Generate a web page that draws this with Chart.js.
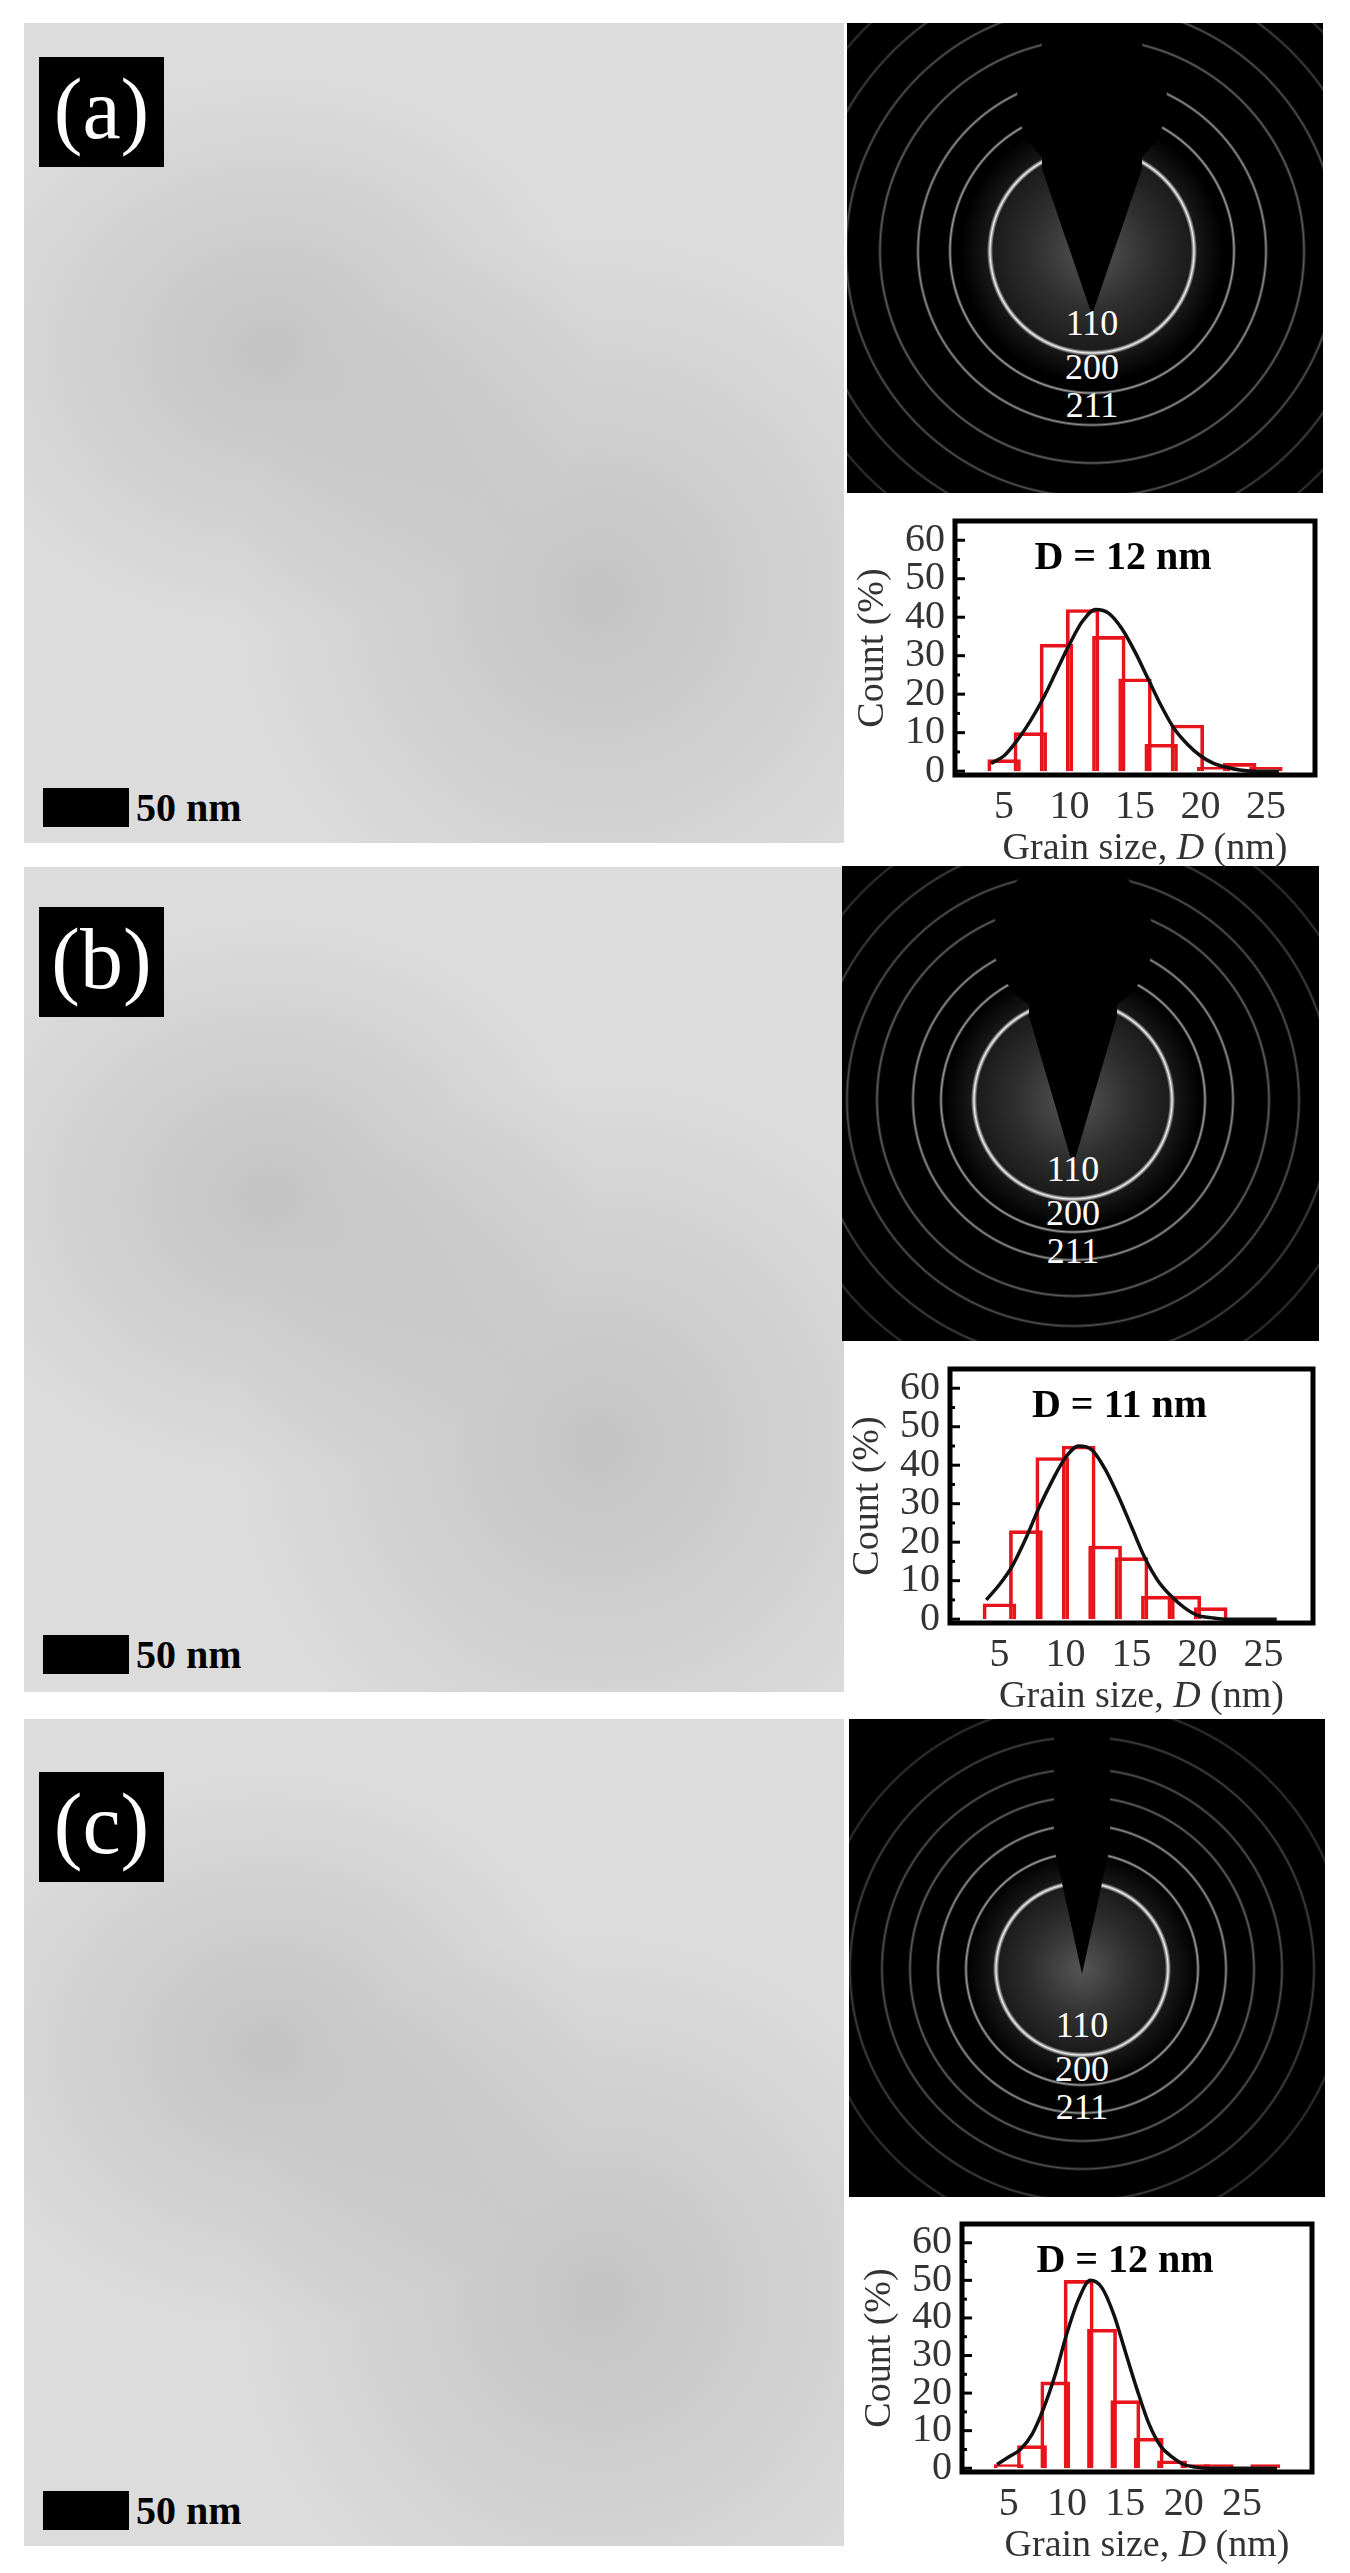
<!DOCTYPE html>
<html>
<head>
<meta charset="utf-8">
<script src="https://cdn.jsdelivr.net/npm/chart.js@4.4.1/dist/chart.umd.min.js"></script>
<style>
  body { margin: 0; background: #fff; width: 1350px; height: 2573px; position: relative; overflow: hidden; font-family: "Liberation Serif", "Times New Roman", "DejaVu Serif", serif; }
  .tem { position: absolute; left: 24px; width: 820px; background:
      radial-gradient(ellipse at 30% 40%, rgba(150,150,150,0.35), rgba(0,0,0,0) 40%),
      radial-gradient(ellipse at 70% 70%, rgba(140,140,140,0.3), rgba(0,0,0,0) 45%),
      #dcdcdc; }
  .lbl { position: absolute; left: 39px; width: 125px; height: 110px; background: #000; color: #fff;
      font-size: 86px; line-height: 104px; text-align: center; }
  .bar { position: absolute; left: 43px; width: 86px; height: 39px; background: #000; }
  .barTxt { position: absolute; left: 136px; font-size: 40px; font-weight: bold; line-height: 39px; }
  .sad { position: absolute; background: #000; overflow: hidden; }
  .stop { position: absolute; background: #000; }
  .hkl { position: absolute; color: #fff; font-size: 36px; width: 80px; text-align: center; line-height: 36px; }
  canvas { position: absolute; }
</style>
</head>
<body>
<div class="tem" style="top:23px;height:820px"></div>
<div class="tem" style="top:867px;height:825px"></div>
<div class="tem" style="top:1719px;height:827px"></div>
<div class="lbl" style="top:57px">(a)</div>
<div class="lbl" style="top:907px">(b)</div>
<div class="lbl" style="top:1772px">(c)</div>
<div class="bar" style="top:788px"></div><div class="barTxt" style="top:788px">50 nm</div>
<div class="bar" style="top:1635px"></div><div class="barTxt" style="top:1635px">50 nm</div>
<div class="bar" style="top:2491px"></div><div class="barTxt" style="top:2491px">50 nm</div>

<div id="sadA" class="sad" style="left:847px;top:23px;width:476px;height:470px"></div>
<div id="sadB" class="sad" style="left:842px;top:866px;width:477px;height:475px"></div>
<div id="sadC" class="sad" style="left:849px;top:1719px;width:476px;height:478px"></div>

<canvas id="hA"></canvas>
<canvas id="hB"></canvas>
<canvas id="hC"></canvas>

<script>
// histogram bins (centre of each 2 nm bin) and counts (%)
const binsA = [5, 7, 9, 11, 13, 15, 17, 19, 21, 23, 25];
const countsA = [3, 10, 33, 42, 35, 24, 7, 12, 1, 2, 1];
const binsB = [5, 7, 9, 11, 13, 15, 17, 19, 21];
const countsB = [4, 23, 42, 45, 19, 16, 6, 6, 3];
const binsC = [5, 7, 9, 11, 13, 15, 17, 19, 21, 23, 25, 27];
const countsC = [1, 6, 23, 50, 37, 18, 8, 2, 1, 1, null, 1];

// fitted curve
const fitXA = [4, 5, 6, 7, 8, 9, 10, 11, 12, 13, 14, 15, 16, 17, 18, 19, 20, 21, 22, 23, 24, 26];
const fitYA = [2, 4, 8, 13, 19, 26, 33, 39, 42, 41, 37, 31, 24, 17, 11, 7, 4, 2, 1, 0.3, 0, 0];
const fitXB = [4, 5, 6, 7, 8, 9, 10, 11, 12, 13, 14, 15, 16, 17, 18, 19, 20, 21, 22, 26];
const fitYB = [5, 9, 14, 21, 29, 36, 42, 45, 44, 39, 32, 24, 16, 10, 6, 3, 1, 0.4, 0, 0];
const fitXC = [4, 5, 6, 7, 8, 9, 10, 11, 12, 13, 14, 15, 16, 17, 18, 19, 20, 21, 22, 28];
const fitYC = [1, 3, 5, 9, 16, 25, 36, 45, 50, 48, 41, 31, 21, 12, 6, 3, 1, 0.3, 0, 0];

const yTicks = [0, 10, 20, 30, 40, 50, 60];
const xTicks = [5, 10, 15, 20, 25];
const hklLabels = ['110', '200', '211'];

// diffraction patterns: rings as css gradients
function drawSAD(id, cx, cy, radii, stopR, stopCy, tipY, stemW) {
  const el = document.getElementById(id);
  const shades = ['#f0f0f0', '#a0a0a0', '#909090', '#606060', '#505050', '#404040', '#333'];
  let stops = [];
  radii.forEach((r, i) => {
    const c = shades[i] || '#2a2a2a';
    const hw = i === 0 ? 3 : 2;
    stops.push(`rgba(0,0,0,0) ${r - hw}px, ${c} ${r}px, rgba(0,0,0,0) ${r + hw}px`);
  });
  el.style.background = `radial-gradient(circle at ${cx}px ${cy}px, ${stops.join(', ')}),
    radial-gradient(circle at ${cx}px ${cy}px, #555 0px, #2e2e2e ${radii[0] * 0.6}px, #1a1a1a ${radii[0]}px, #000 ${radii[0] + 30}px)`;
  if (stopR) {
    const c = document.createElement('div');
    c.className = 'stop';
    c.style.cssText = `left:${cx - stopR}px;top:${stopCy - stopR}px;width:${stopR * 2}px;height:${stopR * 2}px;border-radius:50%`;
    el.appendChild(c);
  }
  const s = document.createElement('div');
  s.className = 'stop';
  s.style.cssText = `left:${cx - stemW}px;top:0px;width:${stemW * 2}px;height:${tipY}px;` +
    `clip-path:polygon(0 0,100% 0,100% 50%,50% 100%,0 50%)`;
  el.appendChild(s);
  const ly = [cy + radii[0] - 30, cy + radii[0] + 14, cy + radii[0] + 52];
  hklLabels.forEach((t, i) => {
    const d = document.createElement('div');
    d.className = 'hkl';
    d.style.cssText = `left:${cx - 40}px;top:${ly[i] - 18}px`;
    d.textContent = t;
    el.appendChild(d);
  });
}
drawSAD('sadA', 245, 228, [102, 142, 174, 212, 246, 282, 318], 75, 78, 292, 50);
drawSAD('sadB', 231, 234, [99, 132, 160, 196, 226, 260, 296], 80, 72, 300, 44);
drawSAD('sadC', 233, 250, [86, 116, 144, 172, 200, 232, 266], 0, 0, 255, 28);

const FONT = '"Liberation Serif", "Times New Roman", "DejaVu Serif", serif';

const frame = {
  id: 'frame',
  afterDraw(chart, args, opts) {
    const { ctx, chartArea: a } = chart;
    ctx.save();
    ctx.lineWidth = 5;
    ctx.strokeStyle = '#000';
    ctx.strokeRect(a.left, a.top, a.right - a.left, a.bottom - a.top);
    const y = chart.scales.y;
    ctx.lineWidth = 3;
    for (let v = 0; v <= 60; v += 5) {
      const py = y.getPixelForValue(v);
      const len = v % 10 === 0 ? 10 : 5;
      ctx.beginPath(); ctx.moveTo(a.left, py); ctx.lineTo(a.left + len, py); ctx.stroke();
    }
    ctx.fillStyle = '#000';
    ctx.font = `bold 40px ${FONT}`;
    ctx.textAlign = 'center';
    ctx.textBaseline = 'top';
    ctx.fillText(opts.text, opts.textX, a.top + 18);
    ctx.textAlign = 'left';
    ctx.textBaseline = 'alphabetic';
    const parts = [['Grain size, ', `38px ${FONT}`], ['D', `italic 38px ${FONT}`], [' (nm)', `38px ${FONT}`]];
    let w = 0;
    parts.forEach(p => { ctx.font = p[1]; w += ctx.measureText(p[0]).width; });
    let x = (a.left + a.right) / 2 - w / 2 + 10;
    const ty = a.bottom + 84;
    ctx.fillStyle = '#333';
    parts.forEach(p => { ctx.font = p[1]; ctx.fillText(p[0], x, ty); x += ctx.measureText(p[0]).width; });
    ctx.restore();
  }
};

function makeHist(id, bins, counts, fx, fy, xMax, label, plotL, plotT, plotR, plotB) {
  const canvas = document.getElementById(id);
  const left = plotL - 105, top = plotT - 10;
  const w = plotR - left + 12, h = plotB - top + 92;
  canvas.style.left = left + 'px';
  canvas.style.top = top + 'px';
  canvas.style.width = w + 'px';
  canvas.style.height = h + 'px';
  canvas.width = w; canvas.height = h;
  const binPx = (plotR - plotL) / (xMax - 4) * 2;
  new Chart(canvas, {
    data: {
      datasets: [
        {
          type: 'line',
          data: fx.map((x, i) => ({ x, y: fy[i] })),
          borderColor: '#111', borderWidth: 3.5, pointRadius: 0,
          cubicInterpolationMode: 'monotone', fill: false, order: 0
        },
        {
          type: 'bar',
          data: bins.map((x, i) => ({ x, y: counts[i] })),
          backgroundColor: 'rgba(255,255,255,0)',
          borderColor: '#e8141c', borderWidth: 3,
          barThickness: binPx, grouped: false, order: 1
        }
      ]
    },
    options: {
      responsive: false, animation: false,
      layout: { padding: { top: 10, right: 12, left: 0, bottom: 0 } },
      plugins: { legend: { display: false }, tooltip: { enabled: false },
        frame: { text: label, textX: (plotL + plotR) / 2 - left - 12 } },
      scales: {
        x: {
          type: 'linear', min: 4, max: xMax,
          afterBuildTicks: s => { s.ticks = xTicks.map(v => ({ value: v })); },
          afterFit: s => { s.height = 92; },
          grid: { display: false }, border: { display: false },
          ticks: { autoSkip: false, font: { family: FONT, size: 40 }, color: '#333', padding: 0, maxRotation: 0 }
        },
        y: {
          min: -1, max: 65,
          afterBuildTicks: s => { s.ticks = yTicks.map(v => ({ value: v })); },
          afterFit: s => { s.width = 105; },
          grid: { display: false }, border: { display: false },
          title: { display: true, text: 'Count (%)', font: { family: FONT, size: 38 }, color: '#333', padding: 0 },
          ticks: { autoSkip: false, font: { family: FONT, size: 40 }, color: '#333', padding: 2 }
        }
      }
    },
    plugins: [frame]
  });
}

makeHist('hA', binsA, countsA, fitXA, fitYA, 26, 'D = 12 nm', 955, 505, 1315, 775);
makeHist('hB', binsB, countsB, fitXB, fitYB, 26, 'D = 11 nm', 950, 1353, 1313, 1623);
makeHist('hC', binsC, countsC, fitXC, fitYC, 28, 'D = 12 nm', 962, 2208, 1312, 2472);
</script>
</body>
</html>
